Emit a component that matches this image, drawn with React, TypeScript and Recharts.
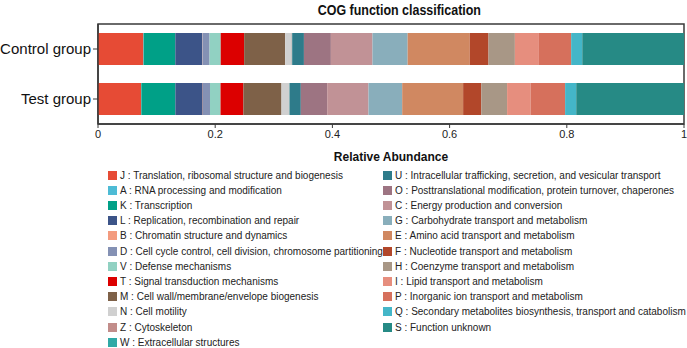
import React from 'react';
import { BarChart, Bar, XAxis, YAxis, ReferenceArea } from 'recharts';

const categories = ['Control group', 'Test group'];
const cogCodes = ['J', 'A', 'K', 'L', 'B', 'D', 'V', 'T', 'M', 'N', 'Z', 'W', 'U', 'O', 'C', 'G', 'E', 'F', 'H', 'I', 'P', 'Q', 'S'];
const cogNames = [
  'Translation, ribosomal structure and biogenesis',
  'RNA processing and modification',
  'Transcription',
  'Replication, recombination and repair',
  'Chromatin structure and dynamics',
  'Cell cycle control, cell division, chromosome partitioning',
  'Defense mechanisms',
  'Signal transduction mechanisms',
  ' Cell wall/membrane/envelope biogenesis',
  'Cell motility',
  'Cytoskeleton',
  'Extracellular structures',
  'Intracellular trafficking, secretion, and vesicular transport',
  'Posttranslational modification, protein turnover, chaperones',
  'Energy production and conversion',
  'Carbohydrate transport and metabolism',
  'Amino acid transport and metabolism',
  'Nucleotide transport and metabolism',
  'Coenzyme transport and metabolism',
  'Lipid transport and metabolism',
  'Inorganic ion transport and metabolism',
  'Secondary metabolites biosynthesis, transport and catabolism',
  'Function unknown',
];
const cogColors = [
  '#E64B35', '#4DBBD5', '#00A087', '#3C5488', '#F39B7F', '#8491B4', '#91D1C2', '#DC0000',
  '#7E6148', '#D0D0D0', '#C28D8A', '#30A9A6', '#2E7B8A', '#9D7482', '#C19296', '#89AEBB',
  '#D08861', '#B2472A', '#A89786', '#E68E7E', '#D6705C', '#44B6C8', '#268A85',
];
const controlValues = [0.0773, 0.0006, 0.054, 0.046, 0.0005, 0.012, 0.019, 0.040, 0.070, 0.011, 0.0005, 0.0005, 0.020, 0.046, 0.071, 0.060, 0.106, 0.032, 0.045, 0.041, 0.055, 0.019, 0.1736];
const testValues = [0.0734, 0.0006, 0.058, 0.0466, 0.0005, 0.012, 0.018, 0.039, 0.065, 0.013, 0.0005, 0.0005, 0.019, 0.045, 0.0705, 0.0575, 0.104, 0.031, 0.044, 0.040, 0.059, 0.019, 0.1839];
const xTicks = [0, 0.2, 0.4, 0.6, 0.8, 1];

const seriesValues = [controlValues, testValues];
const data = categories.map((group, gi) => {
  const row: Record<string, number | string> = { group };
  cogCodes.forEach((c, i) => {
    row[c] = seriesValues[gi][i];
  });
  return row;
});

const FONT = '"Liberation Sans", Arial, sans-serif';
const AXIS = '#3a3a3a';

const leftCount = 12;

function LegendColumn({ start, end, left }: { start: number; end: number; left: number }) {
  const items = [];
  for (let i = start; i < end; i++) {
    const row = i - start;
    items.push(
      <div
        key={cogCodes[i]}
        style={{
          position: 'absolute',
          left,
          top: 175 + row * 15.2 - 7,
          height: 14,
          display: 'flex',
          alignItems: 'center',
          whiteSpace: 'nowrap',
        }}
      >
        <div style={{ width: 9, height: 9, background: cogColors[i], marginRight: 3 }} />
        <span style={{ fontSize: 10, color: '#222', fontFamily: FONT }}>
          {cogCodes[i]} : {cogNames[i]}
        </span>
      </div>
    );
  }
  return <>{items}</>;
}

export default function App() {
  return (
    <div style={{ position: 'absolute', left: 0, top: 0, width: 687, height: 348, background: '#fff', fontFamily: FONT }}>
      <div
        style={{
          position: 'absolute',
          left: 0,
          width: 798,
          top: 1,
          textAlign: 'center',
        }}
      >
        <span
          style={{
            display: 'inline-block',
            fontWeight: 'bold',
            fontSize: 15,
            color: '#111',
            transform: 'scaleX(0.83)',
            whiteSpace: 'nowrap',
          }}
        >
          COG function classification
        </span>
      </div>
      <BarChart
        width={687}
        height={348}
        data={data}
        layout="vertical"
        margin={{ top: 24, right: 3, left: 0, bottom: 184 }}
        barSize={32}
      >
        <XAxis
          type="number"
          domain={[0, 1]}
          ticks={xTicks}
          tickFormatter={(v: number) => String(v)}
          axisLine={{ stroke: AXIS, strokeWidth: 1.5 }}
          tickLine={{ stroke: AXIS }}
          tickSize={4}
          tick={{ fontSize: 11, fill: '#222', fontFamily: FONT }}
          height={40}
          label={{
            value: 'Relative Abundance',
            position: 'insideBottom',
            offset: 3,
            style: { fontSize: 12, fontWeight: 'bold', fill: '#111', fontFamily: FONT },
          }}
        />
        <YAxis
          type="category"
          dataKey="group"
          width={98}
          axisLine={{ stroke: AXIS, strokeWidth: 1.5 }}
          tickLine={{ stroke: AXIS }}
          tickSize={5}
          tick={{ fontSize: 15, fill: '#111', fontFamily: FONT }}
        />
        {cogCodes.map((c, i) => (
          <Bar key={c} dataKey={c} stackId="a" fill={cogColors[i]} isAnimationActive={false} />
        ))}
        <ReferenceArea x1={0} x2={1} fill="none" stroke={AXIS} strokeWidth={1.5} />
      </BarChart>
      <LegendColumn start={0} end={leftCount} left={108} />
      <LegendColumn start={leftCount} end={cogCodes.length} left={383} />
    </div>
  );
}
